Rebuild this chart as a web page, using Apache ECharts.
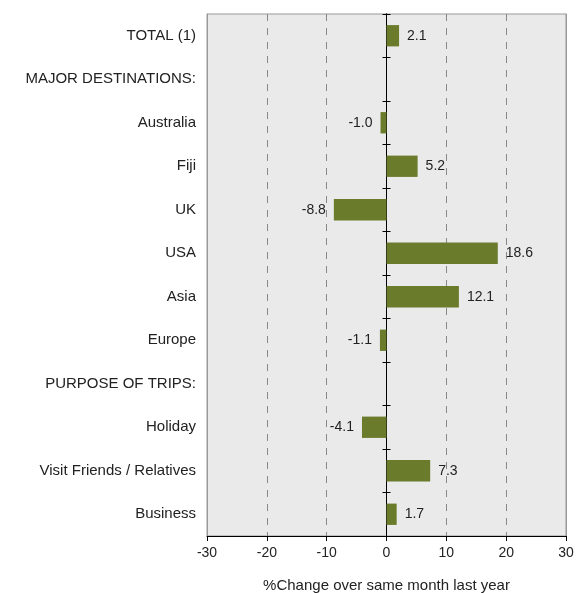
<!DOCTYPE html>
<html>
<head>
<meta charset="utf-8">
<script src="https://cdn.jsdelivr.net/npm/echarts@6/dist/echarts.min.js"></script>
<style>
    html, body { margin: 0; padding: 0; background: #fff; }
    #chart { width: 576px; height: 593px; }
</style>
</head>
<body>
<div id="chart"></div>
<script>
// rows top to bottom, header rows have no value
var categories = [
    'TOTAL (1)', 'MAJOR DESTINATIONS:', 'Australia', 'Fiji', 'UK', 'USA',
    'Asia', 'Europe', 'PURPOSE OF TRIPS:', 'Holiday', 'Visit Friends / Relatives', 'Business'
]
var changes = [2.1, null, -1.0, 5.2, -8.8, 18.6, 12.1, -1.1, null, -4.1, 7.3, 1.7]
var xTicks = [-30, -20, -10, 0, 10, 20, 30]

var font = 'Liberation Sans, Arial, sans-serif'

var barData = changes.map(function (v) {
    if (v === null) { return '-' }
    return {
        value: v,
        label: { position: v < 0 ? 'left' : 'right' }
    }
})

// category axis sitting on zero, only used for the line and tick marks
function zeroAxis (inside) {
    return {
        type: 'category',
        data: categories,
        inverse: true,
        position: 'left',
        axisLine: { show: true, onZero: true, onZeroAxisIndex: 0, lineStyle: { color: '#000', width: 1 } },
        axisTick: { show: true, inside: inside, length: 4, lineStyle: { color: '#000' } },
        axisLabel: { show: false },
        splitLine: { show: false }
    }
}

var chart = echarts.init(document.getElementById('chart'), null, { renderer: 'canvas' })
chart.setOption({
    animation: false,
    textStyle: { fontFamily: font },
    grid: {
        left: 207,
        right: 10,
        top: 14,
        bottom: 57,
        outerBoundsMode: 'none',
        show: true,
        backgroundColor: '#EAEAEA',
        borderColor: '#999',
        borderWidth: 1
    },
    xAxis: {
        type: 'value',
        min: xTicks[0],
        max: xTicks[xTicks.length - 1],
        interval: 10,
        name: '%Change over same month last year',
        nameLocation: 'middle',
        nameGap: 42,
        nameTextStyle: { color: '#222', fontSize: 15, fontFamily: font },
        axisLine: { show: true, onZero: false, lineStyle: { color: '#000', width: 1 } },
        axisTick: { show: true, length: 5, lineStyle: { color: '#000' } },
        axisLabel: { color: '#222', fontSize: 14, margin: 10, fontFamily: font },
        splitLine: {
            show: true,
            lineStyle: { color: '#888', type: [7, 7], width: 1 }
        }
    },
    yAxis: [
        {
            type: 'category',
            data: categories,
            inverse: true,
            position: 'left',
            axisLine: { show: true, onZero: false, lineStyle: { color: '#999', width: 1 } },
            axisTick: { show: false },
            axisLabel: { color: '#222', fontSize: 15, margin: 11, fontFamily: font },
            splitLine: { show: false }
        },
        zeroAxis(false),
        zeroAxis(true),
        {
            type: 'category',
            data: categories,
            inverse: true,
            position: 'right',
            axisLine: { show: true, onZero: false, lineStyle: { color: '#999', width: 1 } },
            axisTick: { show: false },
            axisLabel: { show: false },
            splitLine: { show: false }
        }
    ],
    series: [
        {
            type: 'bar',
            data: barData,
            barWidth: '49%',
            itemStyle: { color: '#6B7B2C' },
            label: {
                show: true,
                distance: 8,
                color: '#222',
                fontSize: 14,
                fontFamily: font,
                formatter: function (p) { return p.value.toFixed(1) }
            }
        }
    ]
})
</script>
</body>
</html>
